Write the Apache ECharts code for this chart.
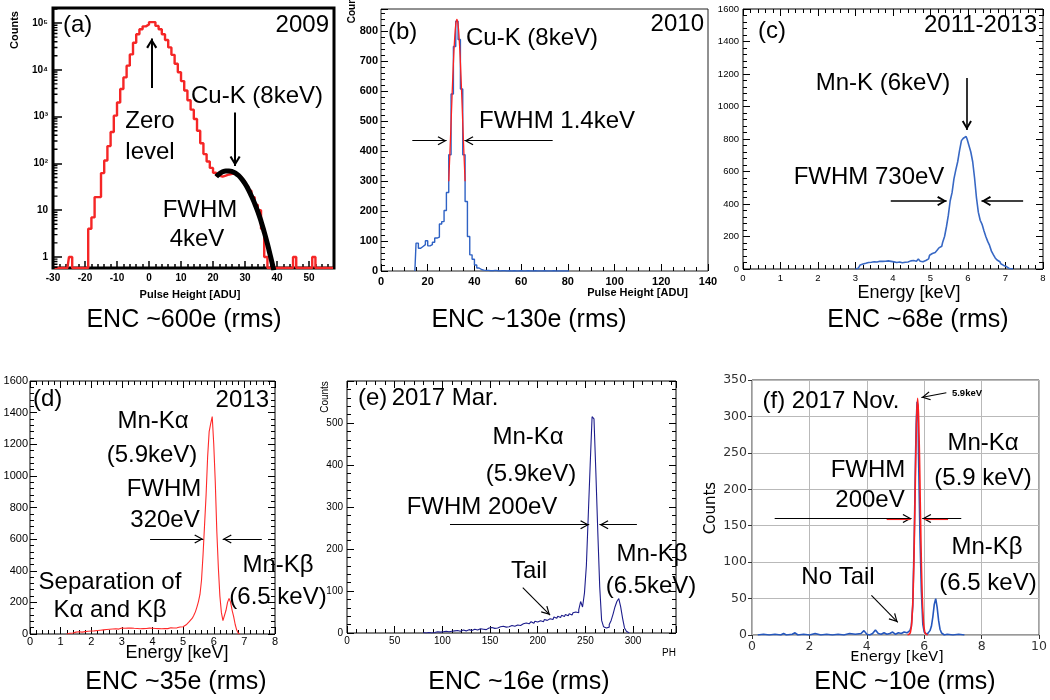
<!DOCTYPE html>
<html><head><meta charset="utf-8">
<script src="https://cdn.jsdelivr.net/npm/echarts@6/dist/echarts.min.js"></script>
<style>html,body{margin:0;padding:0;background:#fff}#c{width:1050px;height:700px}</style>
</head><body><div id="c"></div>
<script>
// ================= DATA =================
// (a) 2009 : counts per 1-ADU bin, first bin [-30,-29)
const A_BIN_START = -30, A_BIN_WIDTH = 1;
const A_COUNTS = [0,0,0,0,0, 1, 0,0,0,0,0,
  4,7,19,19,62,115,234,470,1050,2000,
  3900,6900,12300,21400,38000,57500,74000,85000,93000,105000,
  105000,87000,74000,57500,43600,30200,20900,13500,8900,5750,
  3630,2240,1410,890,500,270,158,110,80,63,
  55,52,55,58,60,60,55,50,42,33,
  26,19,13,10,4,1,0,0,0,0,
  0,0,0,0,1,0,0,0,0,0,
  1,0,0,0,0,0,0];
const A_FIT_PH = [21,22,23,24,25,26,27,28,29,30,31,32,33,34,35,36,37,38,39];
const A_FIT = [52,60,66,69,69,67,62,55,46,37,28,20,14,9.3,5.8,3.4,1.9,1.0,0.52];

// (b) 2010 : counts per 1-ADU bin, first bin [14,15)
const B_BIN_START = 14, B_BIN_WIDTH = 1;
const B_COUNTS = [0,93,76,82,88,101,84,88,96,110,
  113,157,165,202,262,388,591,750,834,773,
  608,388,232,115,54,39,20,10,5,3,
  2,2,1,1,2,1,0,1,1,0,
  1,0,1,0,0,1,0,0,1,0,
  0,1,0,0,0,1,0,0,0,1,
  0,0,0,0,0,0,0];
const B_FIT_PH = [29,29.5,30,30.5,31,31.5,32,32.5,33,33.5,34,34.5,35,35.5,36];
const B_FIT = [300,394,496,600,695,772,822,840,822,772,695,600,496,394,300];

// (c) 2011-2013 : counts per 0.05 keV bin, first bin centre 3.00 keV
const C_E_START = 3.0, C_E_STEP = 0.05;
const C_COUNTS = [0,5,15,25,31,35,38,40,42,44,
  45,43,46,48,47,45,48,50,51,47,
  44,42,40,43,41,38,42,45,43,50,
  46,52,48,55,62,48,45,52,55,62,
  85,95,102,108,115,130,140,165,200,260,
  330,420,470,555,610,660,730,790,805,815,
  800,760,720,660,560,440,350,300,275,235,
  200,170,145,110,88,68,55,45,32,22,
  15,8,3,1,0];

// (d) 2013 : counts sampled every 0.05 keV from 1.20 keV
const D_E_START = 1.2, D_E_STEP = 0.05;
const D_COUNTS = [0,2,5,8,6,10,12,9,14,16,
  12,18,15,20,17,22,19,24,20,26,
  22,27,24,30,26,32,28,34,30,36,
  32,38,33,36,31,35,38,33,36,32,
  37,34,38,33,36,32,35,37,33,36,
  34,31,35,33,37,34,36,32,35,38,
  34,36,33,37,35,38,34,37,40,36,
  38,42,39,41,44,42,46,52,58,68,
  78,88,100,118,140,170,205,250,340,500,
  690,880,1120,1280,1330,1375,1200,960,650,420,
  240,135,85,95,150,200,225,200,150,110,
  60,25,5,0];

// (e) 2017 Mar. : counts per 2-PH bin, first bin centre PH 80
const E_PH_START = 80, E_PH_STEP = 2;
const E_COUNTS = [1,0,2,1,0,2,1,3,1,2,
  3,2,4,3,2,4,5,3,6,4,
  5,7,5,6,8,6,7,9,7,8,
  10,9,11,8,12,10,13,11,14,12,
  15,13,16,14,17,15,18,20,16,19,
  21,18,22,20,24,22,25,27,23,28,
  26,29,31,27,32,30,34,36,32,38,
  35,40,37,42,39,44,41,46,43,48,
  50,48,55,75,62,95,160,280,400,515,
  510,380,240,110,30,15,12,14,20,30,
  45,62,75,82,62,35,12,4,0];

// (f) 2017 Nov.
const F_E = [0.2,0.4,0.6,0.8,1.0,1.1,1.2,1.4,1.5,1.6,1.8,2.0,2.2,2.4,2.6,2.8,3.0,3.2,3.4,3.6,
  3.8,3.9,4.0,4.1,4.2,4.3,4.4,4.5,4.6,4.7,4.8,4.9,5.0,5.1,5.2,5.3,5.4,5.45,5.5,5.55,
  5.6,5.65,5.7,5.72,5.75,5.78,5.8,5.85,5.9,5.95,6.0,6.05,6.1,6.15,6.2,6.25,6.3,6.35,6.4,6.45,
  6.5,6.55,6.6,6.65,6.7,6.8,7.0,7.2,7.4];
const F_COUNTS = [0,1,0,1,0,2,0,1,3,0,1,0,2,0,1,0,1,0,2,1,
  2,6,1,0,2,7,2,1,3,1,2,4,1,3,2,4,3,5,6,12,
  40,130,250,290,320,315,250,140,60,15,4,2,1,3,6,12,25,42,50,38,
  20,8,3,1,0,1,0,1,0];
const F_FIT_E = [5.42,5.47,5.52,5.57,5.62,5.67,5.72,5.77,5.82,5.87,5.92,5.97,6.02,6.07,6.12];
const F_FIT = [0,1,4,20,68,163,273,325,273,163,68,20,4,1,0];

// ================= HELPERS =================
const FONT = "'Liberation Sans', Arial, Helvetica, sans-serif";
const MPL = "'DejaVu Sans', sans-serif";
const ARROW = 'path://M5 -9 L5.01 -9 L5 -9 Z M5 0 L10 8 L8.9 8.7 L5 2.3 L1.1 8.7 L0 8 Z';
const ARROW_B = 'path://M5 -9 L5.01 -9 L5 -9 Z M5 0 L10 8 L8.3 9 L5 3.3 L1.7 9 L0 8 Z';
const plain = v => String(v);

const binned = (start, w, counts, floor) => counts.map((c, i) => [start + (i + 0.5) * w, (floor != null && c <= 0) ? floor : c]);
const sampled = (start, step, counts) => counts.map((c, i) => [+(start + i * step).toFixed(4), c]);
const pairs = (xs, ys) => xs.map((x, i) => [x, ys[i]]);
const arrow = (p1, p2, color) => [{coord: p1, lineStyle: color ? {color} : undefined}, {coord: p2}];
const seg = (p1, p2, color) => [{coord: p1, symbol: 'none', lineStyle: {color}}, {coord: p2, symbol: 'none'}];

const grid = [], xAxis = [], yAxis = [], series = [], graphic = [];
function addGrid(g) { grid.push(Object.assign({show: true, backgroundColor: 'transparent', containLabel: false}, g)); return grid.length - 1; }
function rootAxis(gi, pos, min, max, interval, o) {
  o = o || {};
  const ax = {
    type: o.type || 'value', gridIndex: gi, position: pos, min, max,
    axisLine: {show: false, onZero: false}, splitLine: {show: false},
    axisTick: {show: true, inside: true, length: o.tickLen || 7, lineStyle: {color: '#000', width: o.tickW || 1}},
    minorTick: {show: o.minor !== false, splitNumber: o.minorSplit || 5, length: o.minorLen || 4, lineStyle: {color: '#000', width: o.tickW || 1}},
    axisLabel: {show: o.label !== false, color: '#000', fontFamily: FONT, fontSize: o.fs || 10, fontWeight: o.fw || 'normal',
      margin: o.margin != null ? o.margin : 4, formatter: o.formatter || plain},
    axisPointer: {show: false}
  };
  if (interval != null) ax.interval = interval;
  if (o.showMax === false) ax.axisLabel.showMaxLabel = false;
  if (o.showMin === false) ax.axisLabel.showMinLabel = false;
  if (o.logBase) ax.logBase = o.logBase;
  return ax;
}
function addX(a) { xAxis.push(a); return xAxis.length - 1; }
function addY(a) { yAxis.push(a); return yAxis.length - 1; }
function T(text, x, y, size, o) {
  o = o || {};
  const el = {type: 'text', x, y, z: 50, silent: true,
    style: {text, fill: o.color || '#000', font: (o.bold ? 'bold ' : '') + size + 'px ' + (o.family || FONT),
      align: o.align || 'center', verticalAlign: 'middle'}};
  if (o.rot) el.rotation = Math.PI / 2;
  graphic.push(el);
}
const baseLine = {type: 'line', symbol: 'none', showSymbol: false, silent: true, animation: false};

// ================= PANEL (a) =================
const A_LOG_MIN = 0.58, A_LOG_MAX = 2.1e5;
const supDigits = {'2': '²', '3': '³', '4': '⁴', '5': '⁵', '6': '⁶'};
const gA = addGrid({left: 53, top: 8, width: 281, height: 260, borderColor: '#000', borderWidth: 3});
const xA = addX(rootAxis(gA, 'bottom', -30, 57.8, 10, {fs: 10, fw: 'bold', showMax: false, margin: 5, minorSplit: 5, tickW: 1.5, tickLen: 7}));
const yA = addY(rootAxis(gA, 'left', A_LOG_MIN, A_LOG_MAX, null, {type: 'log', logBase: 10, fs: 10, fw: 'bold', minor: false, tickW: 1.5, tickLen: 9,
  showMax: false, showMin: false, margin: 5,
  formatter: v => { const e = Math.round(Math.log10(v)); return e === 0 ? '1' : e === 1 ? '10' : '10' + (supDigits[String(e)] || ''); }}));
// log-axis minor ticks (2..9 x 10^k), drawn as short broken segments at the left edge
const aMinor = [];
[-1, 0, 1, 2, 3, 4, 5].forEach(k => { for (let m = 2; m <= 9; m++) { const v = m * Math.pow(10, k); if (v > A_LOG_MIN && v < A_LOG_MAX) aMinor.push(v); } });
const aMinorData = [];
aMinor.forEach(v => { aMinorData.push([-30, v], [-28.6, v], [-28.6, '-']); });
series.push(Object.assign({}, baseLine, {
  xAxisIndex: xA, yAxisIndex: yA, step: 'middle', z: 3,
  data: binned(A_BIN_START, A_BIN_WIDTH, A_COUNTS, A_LOG_MIN),
  lineStyle: {color: '#f52626', width: 2.4},
  markLine: {silent: true, animation: false, symbol: ['none', ARROW_B], symbolSize: [11, 20], label: {show: false},
    lineStyle: {color: '#000', width: 2, type: 'solid'},
    data: [arrow([0.84, 4080], [0.84, 47000]), arrow([26.9, 1230], [26.9, 88])]}
}));
series.push(Object.assign({}, baseLine, {
  xAxisIndex: xA, yAxisIndex: yA, smooth: true, z: 4,
  data: pairs(A_FIT_PH, A_FIT),
  lineStyle: {color: '#000', width: 5}
}));
series.push(Object.assign({}, baseLine, {
  xAxisIndex: xA, yAxisIndex: yA, z: 5, connectNulls: false,
  data: aMinorData, lineStyle: {color: '#000', width: 1.4}
}));

// ================= PANEL (b) =================
const gB = addGrid({left: 381, top: 9, width: 327, height: 262, borderColor: '#222', borderWidth: 1});
const xB = addX(rootAxis(gB, 'bottom', 0, 140, 20, {fs: 11, fw: 'bold', margin: 5, minorSplit: 4}));
const yB = addY(rootAxis(gB, 'left', 0, 875, 100, {fs: 11, fw: 'bold', margin: 3, showMax: false, minorSplit: 5}));
series.push(Object.assign({}, baseLine, {
  xAxisIndex: xB, yAxisIndex: yB, step: 'middle', z: 3,
  data: binned(B_BIN_START, B_BIN_WIDTH, B_COUNTS),
  lineStyle: {color: '#2f62c4', width: 1.4},
  markLine: {silent: true, animation: false, symbol: ['none', ARROW], symbolSize: [9, 18], label: {show: false},
    lineStyle: {color: '#000', width: 1.2, type: 'solid'},
    data: [arrow([13.4, 435], [28.1, 435]), arrow([73.5, 435], [35.7, 435])]}
}));
series.push(Object.assign({}, baseLine, {
  xAxisIndex: xB, yAxisIndex: yB, smooth: true, z: 4,
  data: pairs(B_FIT_PH, B_FIT), lineStyle: {color: '#ff2020', width: 1.3}
}));

// ================= PANEL (c) =================
const gC = addGrid({left: 743, top: 9, width: 300, height: 260, borderColor: '#000', borderWidth: 1});
const xC = addX(rootAxis(gC, 'bottom', 0, 8, 1, {fs: 9.5, margin: 4}));
addX(rootAxis(gC, 'top', 0, 8, 1, {label: false}));
const yC = addY(rootAxis(gC, 'left', 0, 1600, 200, {fs: 9.5, margin: 4}));
addY(rootAxis(gC, 'right', 0, 1600, 200, {label: false}));
series.push(Object.assign({}, baseLine, {
  xAxisIndex: xC, yAxisIndex: yC, step: 'middle', z: 3,
  data: sampled(C_E_START, C_E_STEP, C_COUNTS),
  lineStyle: {color: '#3868c4', width: 1.6},
  markLine: {silent: true, animation: false, symbol: ['none', ARROW_B], symbolSize: [10, 19], label: {show: false},
    lineStyle: {color: '#000', width: 1.6, type: 'solid'},
    data: [arrow([5.97, 1175], [5.97, 855]), arrow([3.94, 418], [5.43, 418]), arrow([7.47, 418], [6.36, 418])]}
}));

// ================= PANEL (d) =================
const gD = addGrid({left: 30, top: 381, width: 245, height: 253, borderColor: '#000', borderWidth: 1});
const xD = addX(rootAxis(gD, 'bottom', 0, 8, 1, {fs: 11, margin: 2}));
addX(rootAxis(gD, 'top', 0, 8, 1, {label: false}));
const yD = addY(rootAxis(gD, 'left', 0, 1600, 200, {fs: 11, margin: 2}));
addY(rootAxis(gD, 'right', 0, 1600, 200, {label: false}));
series.push(Object.assign({}, baseLine, {
  xAxisIndex: xD, yAxisIndex: yD, z: 3,
  data: sampled(D_E_START, D_E_STEP, D_COUNTS),
  lineStyle: {color: '#ff2a2a', width: 1.1},
  markLine: {silent: true, animation: false, symbol: ['none', ARROW], symbolSize: [9, 18], label: {show: false},
    lineStyle: {color: '#000', width: 1.1, type: 'solid'},
    data: [arrow([3.92, 601], [5.66, 601]), arrow([7.57, 601], [6.29, 601])]}
}));

// ================= PANEL (e) =================
const gE = addGrid({left: 347, top: 381, width: 329, height: 252, borderColor: '#000', borderWidth: 1});
const xE = addX(rootAxis(gE, 'bottom', 0, 345, 50, {fs: 10, margin: 3, showMax: false}));
addX(rootAxis(gE, 'top', 0, 345, 50, {label: false}));
const yE = addY(rootAxis(gE, 'left', 0, 600, 100, {fs: 10, margin: 4, showMax: false}));
addY(rootAxis(gE, 'right', 0, 600, 100, {label: false}));
series.push(Object.assign({}, baseLine, {
  xAxisIndex: xE, yAxisIndex: yE, step: 'middle', z: 3,
  data: binned(E_PH_START - E_PH_STEP / 2, E_PH_STEP, E_COUNTS),
  lineStyle: {color: '#1d1d8c', width: 1.1},
  markLine: {silent: true, animation: false, symbol: ['none', ARROW], symbolSize: [9, 18], label: {show: false},
    lineStyle: {color: '#000', width: 1.1, type: 'solid'},
    data: [arrow([108, 258], [254, 258]), arrow([304, 258], [264.7, 258]), arrow([184.3, 108], [213, 42.6])]}
}));

// ================= PANEL (f) =================
const gF = addGrid({left: 752, top: 380, width: 290, height: 255, borderColor: '#333', borderWidth: 1});
const mplAxis = (gi, pos, min, max, interval) => ({
  type: 'value', gridIndex: gi, position: pos, min, max, interval,
  axisLine: {show: false, onZero: false},
  axisTick: {show: true, inside: false, length: 4, lineStyle: {color: '#333'}},
  splitLine: {show: true, lineStyle: {color: '#b9b9b9', width: 1}},
  axisLabel: {color: '#333', fontFamily: MPL, fontSize: 12.5, margin: 5, formatter: plain},
  axisPointer: {show: false}
});
const xF = addX(mplAxis(gF, 'bottom', 0, 10, 2));
const yF = addY(mplAxis(gF, 'left', 0, 350, 50));
series.push(Object.assign({}, baseLine, {
  xAxisIndex: xF, yAxisIndex: yF, z: 3,
  data: pairs(F_E, F_COUNTS), lineStyle: {color: '#2456bd', width: 1.6}
}));
series.push(Object.assign({}, baseLine, {
  xAxisIndex: xF, yAxisIndex: yF, smooth: true, z: 4,
  data: pairs(F_FIT_E, F_FIT), lineStyle: {color: '#ff1e1e', width: 1.6},
  markLine: {silent: true, animation: false, symbol: ['none', ARROW], symbolSize: [9, 18], label: {show: false},
    lineStyle: {color: '#000', width: 1.1, type: 'solid'},
    data: [arrow([0.79, 160], [5.56, 160]), arrow([7.29, 160], [5.93, 160]),
      seg([4.69, 159], [5.53, 159], '#ff2020'), seg([6.0, 159], [6.83, 159], '#ff2020'),
      arrow([6.77, 332.6], [5.9, 326]), arrow([4.16, 54.4], [5.08, 17.4])]}
}));

// ================= TEXT =================
// (a)
T('(a)', 63, 25, 24, {align: 'left'}); T('2009', 329, 25, 24, {align: 'right'});
T('Zero', 150, 121, 24); T('level', 150, 152, 24);
T('Cu-K (8keV)', 257, 96, 24); T('FWHM', 200, 210, 24); T('4keV', 197, 239, 24);
T('Counts', 15, 30, 11, {bold: true, rot: true});
T('Pulse Height [ADU]', 190, 295, 11, {bold: true});
T('ENC ~600e (rms)', 184, 320, 25);
// (b)
T('(b)', 388, 32, 24, {align: 'left'}); T('2010', 704, 24, 24, {align: 'right'});
T('Cu-K (8keV)', 532, 38, 24); T('FWHM 1.4keV', 557, 121, 24);
T('Counts', 352, 6, 10, {bold: true, rot: true});
T('Pulse Height [ADU]', 688, 293, 11, {bold: true, align: 'right'});
T('ENC ~130e (rms)', 529, 320, 25);
// (c)
T('(c)', 758, 31, 24, {align: 'left'}); T('2011-2013', 1037, 25, 24, {align: 'right'});
T('Mn-K (6keV)', 883, 83, 24); T('FWHM 730eV', 869, 177, 24);
T('Energy [keV]', 909, 293, 18);
T('ENC ~68e (rms)', 918, 320, 25);
// (d)
T('(d)', 33, 399, 24, {align: 'left'}); T('2013', 269, 400, 24, {align: 'right'});
T('Mn-Kα', 153, 421, 24); T('(5.9keV)', 152, 455, 24); T('FWHM', 164, 489, 24); T('320eV', 165, 520, 24);
T('Separation of', 110, 582, 24); T('Kα and Kβ', 110, 610, 24);
T('Mn-Kβ', 278, 565, 24); T('(6.5 keV)', 278, 597, 24);
T('Energy [keV]', 177, 653, 18);
T('ENC ~35e (rms)', 176, 682, 25);
// (e)
T('(e)', 358, 398, 24, {align: 'left'}); T('2017 Mar.', 445, 398, 24);
T('Mn-Kα', 528, 437, 24); T('(5.9keV)', 531, 474, 24); T('FWHM 200eV', 482, 507, 24);
T('Mn-Kβ', 652, 554, 24); T('(6.5keV)', 651, 586, 24); T('Tail', 529, 571, 24);
T('PH', 676, 653, 10, {align: 'right'});
T('Counts', 325, 397, 10, {rot: true});
T('ENC ~16e (rms)', 519, 682, 25);
// (f)
T('(f) 2017 Nov.', 831, 401, 24); T('5.9keV', 967, 393, 9.5, {bold: true});
T('Mn-Kα', 983, 443, 24); T('(5.9 keV)', 983, 478, 24);
T('FWHM', 868, 470, 24); T('200eV', 870, 500, 24);
T('Mn-Kβ', 987, 547, 24); T('(6.5 keV)', 988, 583, 24);
T('No Tail', 838, 577, 24);
T('Counts', 711, 508, 15, {family: MPL, rot: true});
T('Energy [keV]', 897, 657, 14.5, {family: MPL});
T('ENC ~10e (rms)', 905, 682, 25);

const chart = echarts.init(document.getElementById('c'), null, {renderer: 'canvas', width: 1050, height: 700});
chart.setOption({animation: false, backgroundColor: '#fff', grid, xAxis, yAxis, series, graphic, tooltip: {show: false}});
</script></body></html>
